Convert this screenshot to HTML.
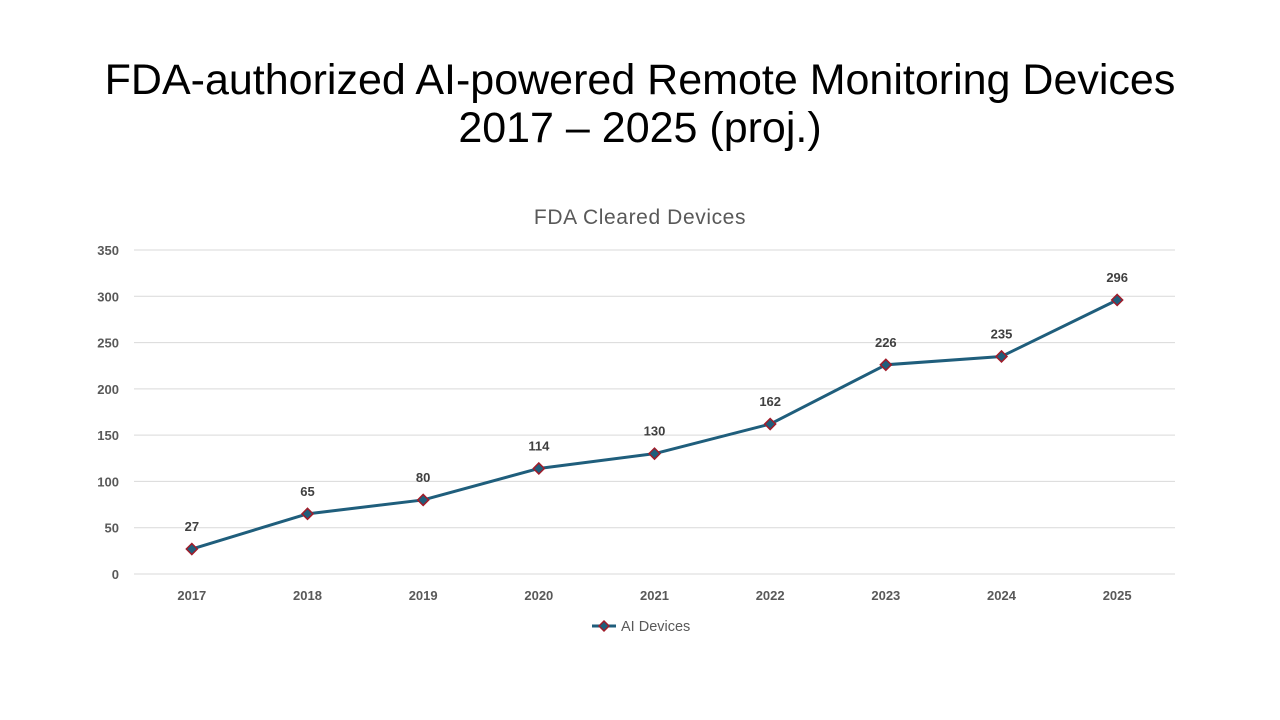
<!DOCTYPE html>
<html><head><meta charset="utf-8"><style>
html,body{margin:0;padding:0;background:#fff;width:1280px;height:720px;overflow:hidden}
.title{position:absolute;left:0;width:1280px;text-align:center;font-family:"Liberation Sans",sans-serif;font-size:43px;color:#000;line-height:48px}
svg{position:absolute;left:0;top:0}
</style></head><body>
<div class="title" style="top:56px">FDA-authorized AI-powered Remote Monitoring Devices<br>2017 – 2025 (proj.)</div>
<svg id="chart" width="1280" height="720" font-family="Liberation Sans, sans-serif">
<text x="640" y="224" text-anchor="middle" font-size="21" letter-spacing="0.6" fill="#595959">FDA Cleared Devices</text>
<g id="grid"></g><g id="series"></g>
<g>
<line x1="592" y1="626" x2="616" y2="626" stroke="#1f5e7c" stroke-width="3"/>
<path d="M604 621 L609 626 L604 631 L599 626 Z" fill="#1f5e7c" stroke="#a01c2a" stroke-width="1.5"/>
<text x="621" y="631" font-size="14.5" fill="#595959">AI Devices</text>
</g>
</svg>
<script>
const categories=["2017","2018","2019","2020","2021","2022","2023","2024","2025"];
const values=[27,65,80,114,130,162,226,235,296];
const yTicks=[0,50,100,150,200,250,300,350];
const NS="http://www.w3.org/2000/svg";
const L=134,R=1175,T=250,B=574,YMAX=350;
const bw=(R-L)/categories.length;
const x=i=>L+bw*(i+0.5);
const y=v=>B-(v/YMAX)*(B-T);
function mk(tag,attrs,parent){const e=document.createElementNS(NS,tag);for(const k in attrs)e.setAttribute(k,attrs[k]);parent.appendChild(e);return e;}
const grid=document.getElementById('grid'),ser=document.getElementById('series');
yTicks.forEach(t=>{
 const l=mk('line',{x1:L,x2:R,y1:y(t),y2:y(t),stroke:'#d9d9d9','stroke-width':1},grid);
 
 
 const tx=mk('text',{x:119,y:y(t)+5,'text-anchor':'end','font-size':13,'font-weight':'bold',fill:'#595959'},grid);
 tx.textContent=t;
 
 
});
categories.forEach((c,i)=>{
 const tx=mk('text',{x:x(i),y:600,'text-anchor':'middle','font-size':13,'font-weight':'bold',fill:'#595959'},grid);
 tx.textContent=c;
 
 
});
const p=mk('polyline',{points:values.map((v,i)=>x(i)+','+y(v)).join(' '),fill:'none',stroke:'#1f5e7c','stroke-width':3,'stroke-linejoin':'round'},ser);


values.forEach((v,i)=>{
 const cx=x(i),cy=y(v);
 const m=mk('path',{d:`M${cx} ${cy-5.5} L${cx+5.5} ${cy} L${cx} ${cy+5.5} L${cx-5.5} ${cy} Z`,fill:'#1f5e7c',stroke:'#a01c2a','stroke-width':1.5},ser);
 
 
 const t=mk('text',{x:cx,y:cy-18,'text-anchor':'middle','font-size':13,'font-weight':'bold',fill:'#404040'},ser);
 t.textContent=v;
 
 
});
</script>
</body></html>
